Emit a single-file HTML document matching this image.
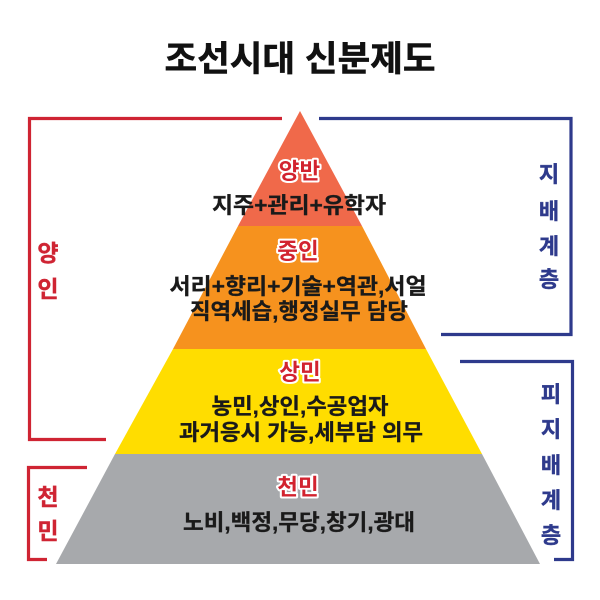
<!DOCTYPE html>
<html lang="ko"><head><meta charset="utf-8">
<style>
html,body{margin:0;padding:0;background:#fff;width:600px;height:600px;overflow:hidden}
svg{display:block}
text{font-family:"Liberation Sans","Noto Sans CJK KR",sans-serif;font-weight:700;text-anchor:middle}
.t{font-size:22px;fill:#1a1a1a;stroke:#1a1a1a;stroke-width:.3px}
.h{font-size:22.500px;fill:#d2232f;stroke:#fff;stroke-width:4px;paint-order:stroke;stroke-linejoin:round}
.r{font-size:23px;fill:#cf2433;stroke:#cf2433;stroke-width:.4px}
.b{font-size:22px;fill:#2e3a8c;stroke:#2e3a8c;stroke-width:.4px}
</style></head><body>
<svg width="600" height="600" viewBox="0 0 600 600" xmlns="http://www.w3.org/2000/svg">
<polygon points="300,111 362,226 238,226" fill="#f0694a"/>
<polygon points="238,226 362,226 426,349 173,349" fill="#f6921e"/>
<polygon points="173,349 426,349 482,454 115,454" fill="#ffdd00"/>
<polygon points="115,454 482,454 540,564 56,564" fill="#a7a9ac"/>
<g fill="none" stroke-width="3.2">
<polyline points="282,118.500 29.500,118.500 29.500,439.500 106,439.500" stroke="#cf2433"/>
<polyline points="87,467.500 28.500,467.500 28.500,559.500 47,559.500" stroke="#cf2433"/>
<polyline points="319,118.500 571,118.500 571,334.500 441,334.500" stroke="#2e3a8c"/>
<polyline points="460,361.500 572.500,361.500 572.500,559.500 554,559.500" stroke="#2e3a8c"/>
</g>
<text x="300" y="71" font-size="35" textLength="271" lengthAdjust="spacingAndGlyphs" fill="#111" stroke="#111" stroke-width=".5">조선시대 신분제도</text>
<text class="h" x="299.500" y="179">양반</text>
<text class="t" x="299" y="213" textLength="174" lengthAdjust="spacingAndGlyphs">지주+관리+유학자</text>
<text class="h" x="298" y="259">중인</text>
<text class="t" x="298" y="294" textLength="257" lengthAdjust="spacingAndGlyphs">서리+향리+기술+역관,서얼</text>
<text class="t" x="299" y="319" textLength="218" lengthAdjust="spacingAndGlyphs">직역세습,행정실무 담당</text>
<text class="h" x="300" y="380">상민</text>
<text class="t" x="300" y="414" textLength="177" lengthAdjust="spacingAndGlyphs">농민,상인,수공업자</text>
<text class="t" x="301" y="440" textLength="244" lengthAdjust="spacingAndGlyphs">과거응시 가능,세부담 의무</text>
<text class="h" x="298" y="495">천민</text>
<text class="t" x="299" y="530" textLength="232" lengthAdjust="spacingAndGlyphs">노비,백정,무당,창기,광대</text>
<text class="r" x="48" y="261">양</text>
<text class="r" x="48" y="297">인</text>
<text class="r" x="48" y="505">천</text>
<text class="r" x="48" y="539">민</text>
<text class="b" x="549" y="182">지</text>
<text class="b" x="549" y="219">배</text>
<text class="b" x="549" y="254">계</text>
<text class="b" x="549" y="287">층</text>
<text class="b" x="551" y="402">피</text>
<text class="b" x="551" y="437">지</text>
<text class="b" x="551" y="473">배</text>
<text class="b" x="551" y="508">계</text>
<text class="b" x="551" y="543">층</text>
</svg>
</body></html>
